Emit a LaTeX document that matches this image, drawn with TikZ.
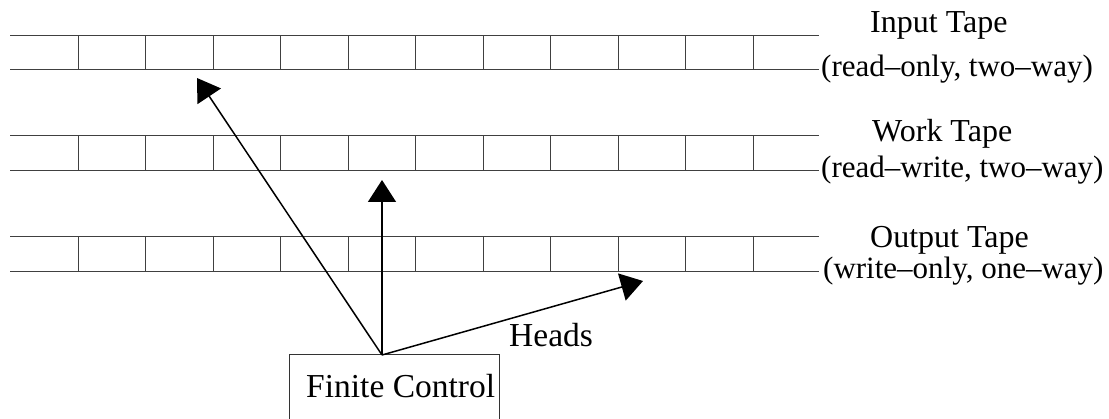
\documentclass[tikz,border=0pt]{standalone}
\usepackage{fontspec}
\setmainfont{Liberation Serif}
\usetikzlibrary{arrows.meta}
\begin{document}
\begin{tikzpicture}[x=1pt,y=-1pt,
  tapeline/.style={line width=1pt,draw=black!75},
  head/.style={line width=1.5pt,-{Triangle[length=22pt,width=28pt]}},
  lbl/.style={anchor=base west,inner sep=0pt,font=\fontsize{32}{38}\selectfont},
  sub/.style={lbl,font=\fontsize{31}{37}\selectfont},
  big/.style={lbl,font=\fontsize{33.5}{40}\selectfont},
  box/.style={draw,line width=1pt,black!80}]
\useasboundingbox (0,0) rectangle (1109,419);
% tapes
\foreach \t/\b in {36/70,136/171,237/272}{
  \draw[tapeline] (10,\t) -- (819,\t);
  \draw[tapeline] (10,\b) -- (819,\b);
  \foreach \k in {0,...,10}{
    \draw[tapeline] ({78+67.5*\k},\t) -- ({78+67.5*\k},\b);
  }
}
% labels
\node[lbl] (in)  at (870,33)  {Input Tape};
\node[sub] (ins) at (821,77)  {(read--only, two--way)};
\node[lbl] (wk)  at (872,142) {Work Tape};
\node[sub] (wks) at (821,178) {(read--write, two--way)};
\node[lbl] (out) at (870,248) {Output Tape};
\node[sub] (outs) at (823,279) {(write--only, one--way)};
% finite control
\draw[box] (289,445) -- (289,355) -- (499,355) -- (499,445);
\node[big] (fc) at (306,398) {Finite Control};
\coordinate (apex) at (382,355);
\coordinate (t1) at (197,78);
\coordinate (t2) at (382,180);
\coordinate (t3) at (643,281);
\draw[head] (apex) -- (t1);
\draw[head] (apex) -- (t2);
\draw[head] (apex) -- (t3);
\node[big] (hd) at (509,347) {Heads};
\end{tikzpicture}
\end{document}
